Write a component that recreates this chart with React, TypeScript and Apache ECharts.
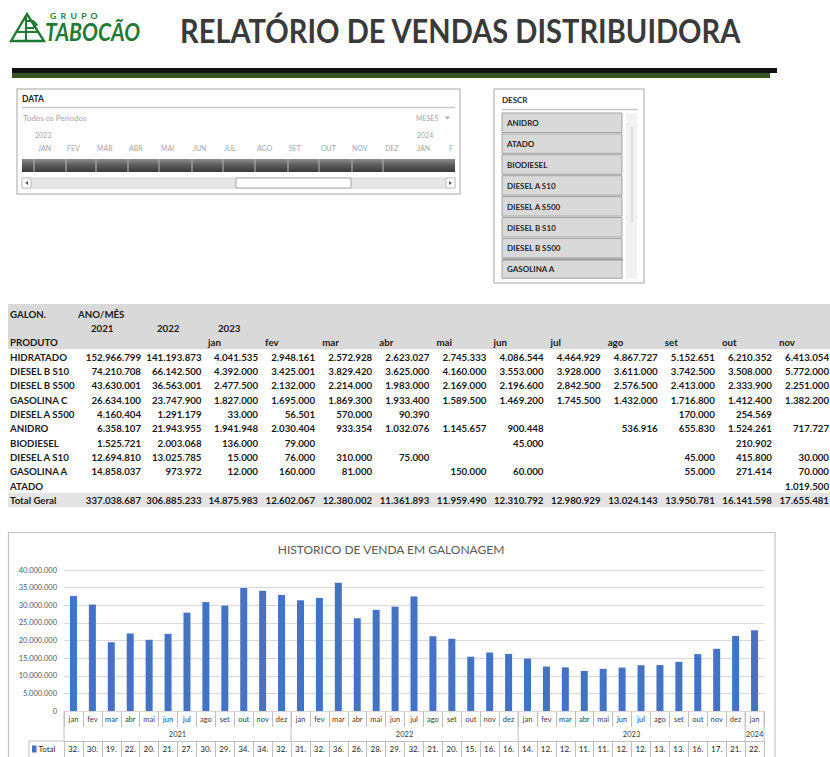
import React, { useEffect, useRef } from 'react';
import * as echarts from 'echarts';

// ---------- DATA ----------
const months = ['jan', 'fev', 'mar', 'abr', 'mai', 'jun', 'jul', 'ago', 'set', 'out', 'nov', 'dez'];
const chartCategories = [...months, ...months, ...months, 'jan'];
const chartYears = ['2021', '2022', '2023', '2024'];
const monthlyTotals = [
  32600000, 30200000, 19500000, 22000000, 20200000, 21900000, 27900000, 30900000, 29900000, 34900000, 34100000, 32900000,
  31400000, 32100000, 36400000, 26300000, 28700000, 29600000, 32500000, 21200000, 20500000, 15400000, 16600000, 16200000,
  14875983, 12602067, 12380002, 11361893, 11959490, 12310792, 12980929, 13024143, 13950781, 16141598, 17655481, 21300000,
  22900000,
];

const tableYearHeaders = ['2021', '2022', '2023'];
const tableMonthHeaders = ['jan', 'fev', 'mar', 'abr', 'mai', 'jun', 'jul', 'ago', 'set', 'out', 'nov'];
const products = ['HIDRATADO', 'DIESEL B S10', 'DIESEL B S500', 'GASOLINA C', 'DIESEL A S500', 'ANIDRO', 'BIODIESEL', 'DIESEL A S10', 'GASOLINA A', 'ATADO'];
const hidratado = [152966799, 141193873, 4041535, 2948161, 2572928, 2623027, 2745333, 4086544, 4464929, 4867727, 5152651, 6210352, 6413054];
const dieselBS10 = [74210708, 66142500, 4392000, 3425001, 3829420, 3625000, 4160000, 3553000, 3928000, 3611000, 3742500, 3508000, 5772000];
const dieselBS500 = [43630001, 36563001, 2477500, 2132000, 2214000, 1983000, 2169000, 2196600, 2842500, 2576500, 2413000, 2333900, 2251000];
const gasolinaC = [26634100, 23747900, 1827000, 1695000, 1869300, 1933400, 1589500, 1469200, 1745500, 1432000, 1716800, 1412400, 1382200];
const dieselAS500 = [4160404, 1291179, 33000, 56501, 570000, 90390, null, null, null, null, 170000, 254569, null];
const anidro = [6358107, 21943955, 1941948, 2030404, 933354, 1032076, 1145657, 900448, null, 536916, 655830, 1524261, 717727];
const biodiesel = [1525721, 2003068, 136000, 79000, null, null, null, 45000, null, null, null, 210902, null];
const dieselAS10 = [12694810, 13025785, 15000, 76000, 310000, 75000, null, null, null, null, 45000, 415800, 30000];
const gasolinaA = [14858037, 973972, 12000, 160000, 81000, null, 150000, 60000, null, null, 55000, 271414, 70000];
const atado = [null, null, null, null, null, null, null, null, null, null, null, null, 1019500];
const totalGeral = [337038687, 306885233, 14875983, 12602067, 12380002, 11361893, 11959490, 12310792, 12980929, 13024143, 13950781, 16141598, 17655481];
const tableRows = [hidratado, dieselBS10, dieselBS500, gasolinaC, dieselAS500, anidro, biodiesel, dieselAS10, gasolinaA, atado];

const timelineMonths = ['JAN', 'FEV', 'MAR', 'ABR', 'MAI', 'JUN', 'JUL', 'AGO', 'SET', 'OUT', 'NOV', 'DEZ', 'JAN', 'F'];
const descrItems = ['ANIDRO', 'ATADO', 'BIODIESEL', 'DIESEL A S10', 'DIESEL A S500', 'DIESEL B S10', 'DIESEL B S500', 'GASOLINA A'];

// ---------- helpers ----------
const FONT = 'Lato, "Noto Sans", sans-serif';
const fmt = (n: number) => String(n).replace(/\B(?=(\d{3})+(?!\d))/g, '.');

let measureCtx: CanvasRenderingContext2D | null = null;
function measure(text: string, font: string) {
  if (!measureCtx) measureCtx = document.createElement('canvas').getContext('2d');
  if (!measureCtx) return text.length * 10;
  measureCtx.font = font;
  return measureCtx.measureText(text).width;
}

function txt(x: number, y: number, text: string, o: any = {}) {
  return {
    type: 'text',
    x,
    y,
    silent: true,
    scaleX: o.scaleX ?? 1,
    style: {
      text,
      fill: o.fill ?? '#262626',
      fontSize: o.fontSize ?? 9,
      fontWeight: o.fontWeight ?? 'normal',
      fontStyle: o.fontStyle ?? 'normal',
      fontFamily: o.fontFamily ?? FONT,
      align: o.align ?? 'left',
      verticalAlign: 'middle',
    },
  };
}
function rect(x: number, y: number, w: number, h: number, style: any) {
  return { type: 'rect', silent: true, shape: { x, y, width: w, height: h }, style };
}
function line(x1: number, y1: number, x2: number, y2: number, stroke: string, lineWidth = 1) {
  return { type: 'line', silent: true, shape: { x1, y1, x2, y2 }, style: { stroke, lineWidth } };
}

export default function App() {
  const ref = useRef<HTMLDivElement>(null);

  useEffect(() => {
    if (!ref.current) return;
    const chart = echarts.init(ref.current, null, { renderer: 'svg' });
    const totalLabels = monthlyTotals.map((v) => fmt(v).slice(0, 3));

    chart.setOption({
      animation: false,
      backgroundColor: '#ffffff',
      grid: { left: 64, right: 66, top: 570, bottom: 46, containLabel: false },
      xAxis: [
        {
          type: 'category',
          gridIndex: 0,
          data: chartCategories,
          axisLine: { show: true, lineStyle: { color: '#d9d9d9' } },
          axisTick: { show: true, interval: 0, length: 16, lineStyle: { color: '#bfbfbf' } },
          axisLabel: { interval: 0, margin: 4, fontSize: 7.5, color: '#404040', fontFamily: FONT },
        },
        {
          type: 'category',
          gridIndex: 0,
          data: totalLabels,
          position: 'bottom',
          offset: 30,
          axisLine: { show: true, lineStyle: { color: '#bfbfbf' } },
          axisTick: { show: true, interval: 0, length: 16, lineStyle: { color: '#bfbfbf' } },
          axisLabel: { interval: 0, margin: 4, fontSize: 8, color: '#1f1f1f', fontFamily: FONT },
        },
      ],
      yAxis: {
        type: 'value',
        min: 0,
        max: 40000000,
        interval: 5000000,
        axisLabel: { formatter: (v: number) => fmt(v), fontSize: 7.5, color: '#595959', margin: 7, fontFamily: FONT },
        splitLine: { lineStyle: { color: '#d9d9d9' } },
        axisLine: { show: false },
        axisTick: { show: false },
      },
      series: [
        {
          type: 'bar',
          name: 'Total',
          xAxisIndex: 0,
          data: monthlyTotals,
          barWidth: 7,
          itemStyle: { color: '#4472c4' },
        },
      ],
    });

    // positions from the category scale
    const cx = (i: number) => chart.convertToPixel({ xAxisIndex: 0 }, i) as unknown as number;
    const catW = cx(1) - cx(0);
    const bx = (b: number) => cx(0) - catW / 2 + b * catW;

    const green = '#1f7a33';
    const els: any[] = [];

    // ---------- header ----------
    els.push({ type: 'polygon', silent: true, shape: { points: [[11, 41], [27, 14], [44, 41]] }, style: { fill: 'none', stroke: green, lineWidth: 2.4 } });
    els.push(line(26, 16, 26, 41, green, 2.2));
    els.push({ type: 'polyline', silent: true, shape: { points: [[26, 21], [33, 21], [36.5, 24.5], [33, 28], [26, 28]] }, style: { fill: 'none', stroke: green, lineWidth: 2.2 } });
    els.push(line(17, 32, 38, 32, green, 2));
    const grupoFont = `bold 7px ${FONT}`;
    els.push(txt(50, 16, 'G  R  U  P  O', { fontSize: 7, fontWeight: 'bold', fill: green, scaleX: 48 / measure('G  R  U  P  O', grupoFont) }));
    const tabFont = `italic bold 24px ${FONT}`;
    els.push(txt(45, 32, 'TABOCÃO', { fontSize: 24, fontWeight: 'bold', fontStyle: 'italic', fill: green, scaleX: 95 / measure('TABOCÃO', tabFont) }));
    const title = 'RELATÓRIO DE VENDAS DISTRIBUIDORA';
    const titleFont = `bold 33px ${FONT}`;
    els.push(txt(180, 30, title, { fontSize: 33, fontWeight: 'bold', fill: '#3a3a3a', scaleX: 562 / measure(title, titleFont) }));
    els.push(rect(12, 68, 765, 5, { fill: '#111111' }));
    els.push(rect(12, 73, 758, 5, { fill: '#375623' }));

    // ---------- DATA timeline slicer ----------
    els.push(rect(17, 89, 443, 105, { fill: '#ffffff', stroke: '#c4c4c4', lineWidth: 1.5 }));
    els.push(txt(22, 99, 'DATA', { fontSize: 8.5, fontWeight: 'bold', fill: '#262626' }));
    els.push(line(22, 107.5, 455, 107.5, '#c8c8c8', 1.5));
    els.push(txt(23, 118, 'Todos os Periodos', { fontSize: 8, fill: '#a6a6a6' }));
    els.push(txt(416, 118, 'MESES', { fontSize: 7, fill: '#a6a6a6' }));
    els.push({ type: 'polygon', silent: true, shape: { points: [[445, 116.5], [450, 116.5], [447.5, 119.5]] }, style: { fill: '#a6a6a6' } });
    els.push(txt(35, 135, '2023', { fontSize: 7, fill: '#a6a6a6' }));
    els.push(txt(417, 135, '2024', { fontSize: 7, fill: '#a6a6a6' }));
    const tlX = [38, 67, 97, 129, 161, 193, 224, 257, 289, 321, 352, 385, 417, 449];
    timelineMonths.forEach((m, i) => els.push(txt(tlX[i], 148, m, { fontSize: 7, fill: '#a6a6a6' })));
    els.push(rect(22, 159, 433, 13, {
      fill: { type: 'linear', x: 0, y: 0, x2: 0, y2: 1, colorStops: [{ offset: 0, color: '#8e8e8e' }, { offset: 0.45, color: '#5c5c5c' }, { offset: 1, color: '#3a3a3a' }] },
    }));
    [34, 66, 96, 128, 159, 192, 223, 255, 288, 319, 352, 383].forEach((x) => els.push(line(x, 159, x, 172, '#b8b8b8', 1)));
    els.push(rect(22, 178, 433, 10, { fill: '#e6e6e6', stroke: '#d6d6d6', lineWidth: 1 }));
    els.push(rect(22, 178, 9, 10, { fill: '#ffffff', stroke: '#c0c0c0', lineWidth: 1 }));
    els.push({ type: 'polygon', silent: true, shape: { points: [[25, 183], [28, 181], [28, 185]] }, style: { fill: '#606060' } });
    els.push(rect(446, 178, 9, 10, { fill: '#ffffff', stroke: '#c0c0c0', lineWidth: 1 }));
    els.push({ type: 'polygon', silent: true, shape: { points: [[452, 183], [449, 181], [449, 185]] }, style: { fill: '#606060' } });
    els.push(rect(236, 178, 115, 10, { fill: '#ffffff', stroke: '#a6a6a6', lineWidth: 1 }));

    // ---------- DESCR slicer ----------
    els.push(rect(494, 89, 150, 194, { fill: '#ffffff', stroke: '#c4c4c4', lineWidth: 1.5 }));
    els.push(txt(502, 100, 'DESCR', { fontSize: 8, fontWeight: 'bold', fill: '#1f1f3a' }));
    els.push(line(502, 109.5, 638, 109.5, '#c8c8c8', 1.5));
    els.push(rect(626, 113, 11, 166, { fill: '#f2f2f2' }));
    els.push(line(632, 127, 632, 222, '#c8c8c8', 1));
    descrItems.forEach((d, i) => {
      const top = 113 + i * 20.9;
      const h = i === 7 ? 19 : 19.5;
      els.push(rect(502, top, 120, h, { fill: '#d9d9d9', stroke: '#a3a3a3', lineWidth: 1 }));
      els.push(txt(507, top + 10, d, { fontSize: 8, fontWeight: 'bold', fill: '#262626' }));
    });
    els.push(line(502, 259.5, 623, 259.5, '#9a9a9a', 2));

    // ---------- pivot table ----------
    els.push(rect(8, 304, 822, 45, { fill: '#d9d9d9' }));
    els.push(rect(8, 493, 822, 14, { fill: '#e4e4e4' }));
    const tf = { fontSize: 9.7, fontWeight: 'bold', fill: '#1a1a1a' };
    els.push(txt(10, 313.5, 'GALON.', tf));
    els.push(txt(78, 313.5, 'ANO/MÊS', tf));
    const yearHX = [91, 157, 218];
    tableYearHeaders.forEach((y, i) => els.push(txt(yearHX[i], 327.5, y, tf)));
    els.push(txt(10, 342, 'PRODUTO', tf));
    tableMonthHeaders.forEach((m, i) => els.push(txt(208 + i * 57.1, 342, m, tf)));
    const colRight = [141, 201.5, ...tableMonthHeaders.map((_, i) => 258 + i * 57.1)];
    const rowY = (r: number) => 356.5 + r * 14.35;
    products.forEach((p, r) => {
      els.push(txt(10, rowY(r), p, tf));
      tableRows[r].forEach((v, c) => {
        if (v != null) els.push(txt(colRight[c], rowY(r), fmt(v as number), { ...tf, align: 'right' }));
      });
    });
    els.push(txt(10, rowY(10), 'Total Geral', tf));
    totalGeral.forEach((v, c) => els.push(txt(colRight[c], rowY(10), fmt(v), { ...tf, align: 'right' })));

    // ---------- bar chart frame ----------
    els.push(rect(8.5, 532.5, 766.5, 240, { fill: 'none', stroke: '#c4c4c4', lineWidth: 1.2 }));
    els.push(txt(391, 549.5, 'HISTORICO DE VENDA EM GALONAGEM', { fontSize: 12, fill: '#595959', align: 'center' }));

    // year row (multi-level category axis)
    [0, 12, 24, 36, 37].forEach((b) => els.push(line(bx(b), 711, bx(b), 741, '#bfbfbf', 1)));
    const yearMid = [6, 18, 30, 36.5];
    chartYears.forEach((y, i) => els.push(txt(bx(yearMid[i]), 734, y, { fontSize: 7.5, fill: '#404040', align: 'center' })));

    // data table legend cell
    els.push(line(29, 741, bx(0), 741, '#bfbfbf', 1));
    els.push(line(29, 741, 29, 757, '#bfbfbf', 1));
    els.push(rect(32, 745.5, 4.5, 7, { fill: '#4472c4' }));
    els.push(txt(38.5, 749, 'Total', { fontSize: 8, fill: '#1f1f1f' }));

    chart.setOption({ graphic: { elements: els } });

    return () => chart.dispose();
  }, []);

  return <div ref={ref} style={{ position: 'fixed', left: 0, top: 0, width: 830, height: 757 }} />;
}
